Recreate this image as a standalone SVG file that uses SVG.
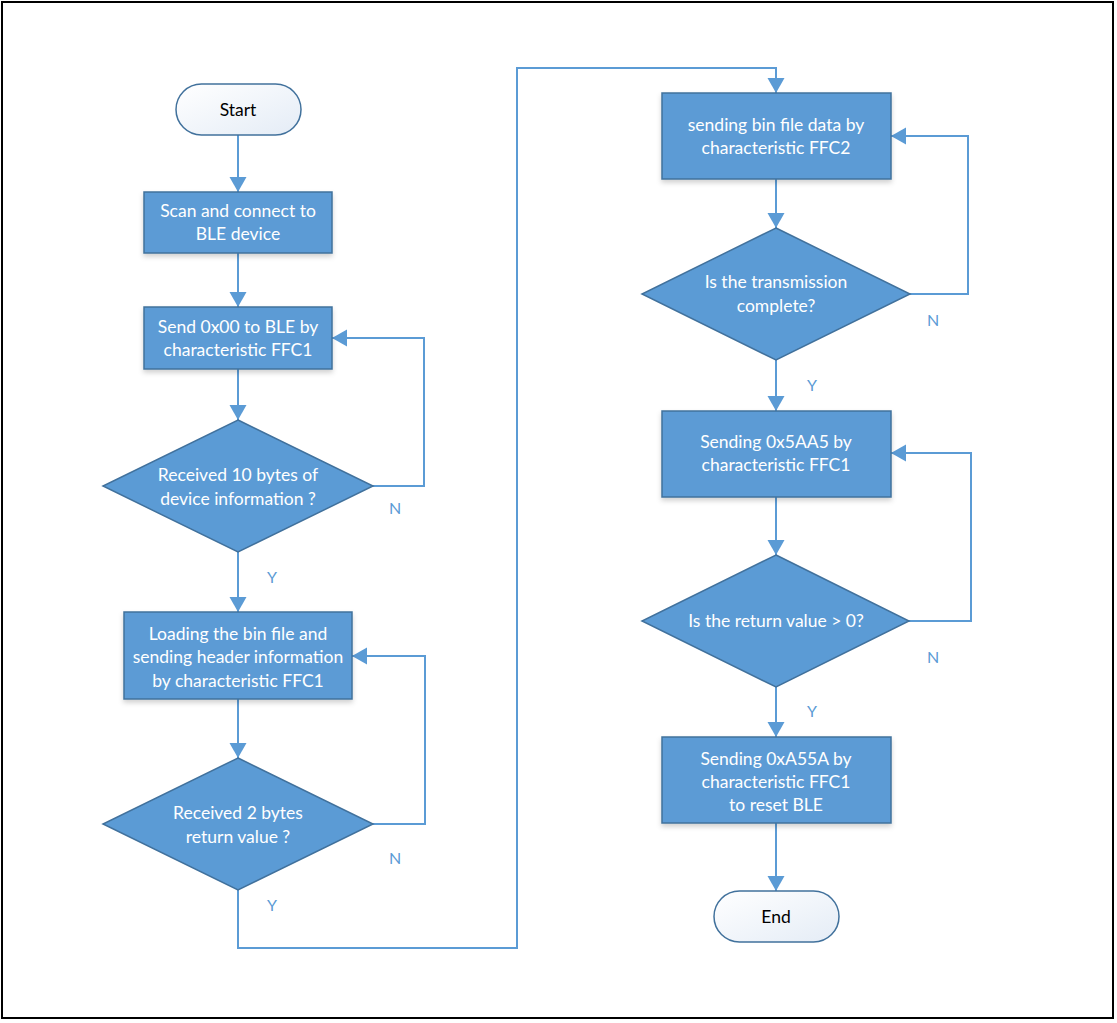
<svg xmlns="http://www.w3.org/2000/svg" width="1117" height="1023" viewBox="0 0 1117 1023">
<defs>
<style>
.box{fill:#5B9BD5;stroke:#41719C;stroke-width:1.5;}
.term{fill:url(#tg);stroke:#41719C;stroke-width:1.5;}
.t{font-family:Lato,"Open Sans",sans-serif;font-size:17.5px;fill:#FFFFFF;text-anchor:middle;}
.tk{font-family:Lato,"Open Sans",sans-serif;font-size:17.5px;fill:#000000;text-anchor:middle;}
.lbl{font-family:Lato,"Open Sans",sans-serif;font-size:16px;fill:#5B9BD5;text-anchor:middle;}
.c{fill:none;stroke:#5B9BD5;stroke-width:2;}
</style>
<linearGradient id="tg" x1="0" y1="0" x2="1" y2="1">
<stop offset="0" stop-color="#FFFFFF"/>
<stop offset="1" stop-color="#E4ECF6"/>
</linearGradient>
<filter id="sh" x="-10%" y="-10%" width="120%" height="130%">
<feDropShadow dx="0" dy="3" stdDeviation="2.5" flood-color="#000" flood-opacity="0.18"/>
</filter>
<marker id="ah" markerUnits="userSpaceOnUse" markerWidth="18" markerHeight="18" refX="15" refY="8.5" orient="auto">
<path d="M0,0 L15,8.5 L0,17 Z" fill="#5B9BD5"/>
</marker>
</defs>
<rect x="2" y="2" width="1111" height="1016" fill="#FFFFFF" stroke="#000000" stroke-width="2"/>

<g id="connectors">
<path class="c" d="M238,135 V192" marker-end="url(#ah)"/>
<path class="c" d="M238,253 V307" marker-end="url(#ah)"/>
<path class="c" d="M238,369 V420" marker-end="url(#ah)"/>
<path class="c" d="M373,486 H424 V338 H332" marker-end="url(#ah)"/>
<path class="c" d="M238,552 V612" marker-end="url(#ah)"/>
<path class="c" d="M238,699 V758" marker-end="url(#ah)"/>
<path class="c" d="M373,824 H425 V656 H352" marker-end="url(#ah)"/>
<path class="c" d="M238,890 V948 H517 V68 H776 V93" marker-end="url(#ah)"/>
<path class="c" d="M776,179 V228" marker-end="url(#ah)"/>
<path class="c" d="M910,294 H968 V136 H891" marker-end="url(#ah)"/>
<path class="c" d="M776,360 V411" marker-end="url(#ah)"/>
<path class="c" d="M776,497 V555" marker-end="url(#ah)"/>
<path class="c" d="M909,621 H971 V453 H891" marker-end="url(#ah)"/>
<path class="c" d="M776,687 V737" marker-end="url(#ah)"/>
<path class="c" d="M776,823 V891" marker-end="url(#ah)"/>
<text class="lbl" x="395" y="514">N</text>
<text class="lbl" x="272" y="583">Y</text>
<text class="lbl" x="395" y="864">N</text>
<text class="lbl" x="272" y="911">Y</text>
<text class="lbl" x="933" y="326">N</text>
<text class="lbl" x="812" y="391">Y</text>
<text class="lbl" x="933" y="663">N</text>
<text class="lbl" x="812" y="717">Y</text>
</g>

<g id="start">
<rect class="term" x="176" y="84" width="125" height="51" rx="25.5"/>
<text class="tk" x="238" y="116">Start</text>
</g>
<g id="scan">
<rect class="box" x="144" y="192" width="188" height="61" filter="url(#sh)"/>
<text class="t" x="238" y="217">Scan and connect to</text>
<text class="t" x="238" y="240">BLE device</text>
</g>
<g id="send00">
<rect class="box" x="144" y="307" width="188" height="62" filter="url(#sh)"/>
<text class="t" x="238" y="333">Send 0x00 to BLE by</text>
<text class="t" x="238" y="356">characteristic FFC1</text>
</g>
<g id="dec1">
<polygon class="box" points="238,420 373,486 238,552 103,486"/>
<text class="t" x="238" y="481">Received 10 bytes of</text>
<text class="t" x="238" y="505">device information ?</text>
</g>
<g id="load">
<rect class="box" x="124" y="612" width="228" height="87" filter="url(#sh)"/>
<text class="t" x="238" y="640">Loading the bin file and</text>
<text class="t" x="238" y="663">sending header information</text>
<text class="t" x="238" y="687">by characteristic FFC1</text>
</g>
<g id="dec2">
<polygon class="box" points="238,758 373,824 238,890 103,824"/>
<text class="t" x="238" y="819">Received 2 bytes</text>
<text class="t" x="238" y="843">return value ?</text>
</g>
<g id="sendbin">
<rect class="box" x="662" y="93" width="229" height="86" filter="url(#sh)"/>
<text class="t" x="776" y="131">sending bin file data by</text>
<text class="t" x="776" y="154">characteristic FFC2</text>
</g>
<g id="dec3">
<polygon class="box" points="776,228 910,294 776,360 642,294"/>
<text class="t" x="776" y="288">Is the transmission</text>
<text class="t" x="776" y="312">complete?</text>
</g>
<g id="send5aa5">
<rect class="box" x="662" y="411" width="229" height="86" filter="url(#sh)"/>
<text class="t" x="776" y="448">Sending 0x5AA5 by</text>
<text class="t" x="776" y="471">characteristic FFC1</text>
</g>
<g id="dec4">
<polygon class="box" points="776,555 909,621 776,687 642,621"/>
<text class="t" x="776" y="627">Is the return value &gt; 0?</text>
</g>
<g id="senda55a">
<rect class="box" x="662" y="737" width="229" height="86" filter="url(#sh)"/>
<text class="t" x="776" y="765">Sending 0xA55A by</text>
<text class="t" x="776" y="788">characteristic FFC1</text>
<text class="t" x="776" y="811">to reset BLE</text>
</g>
<g id="end">
<rect class="term" x="714" y="891" width="125" height="51" rx="25.5"/>
<text class="tk" x="776" y="923">End</text>
</g>
</svg>
